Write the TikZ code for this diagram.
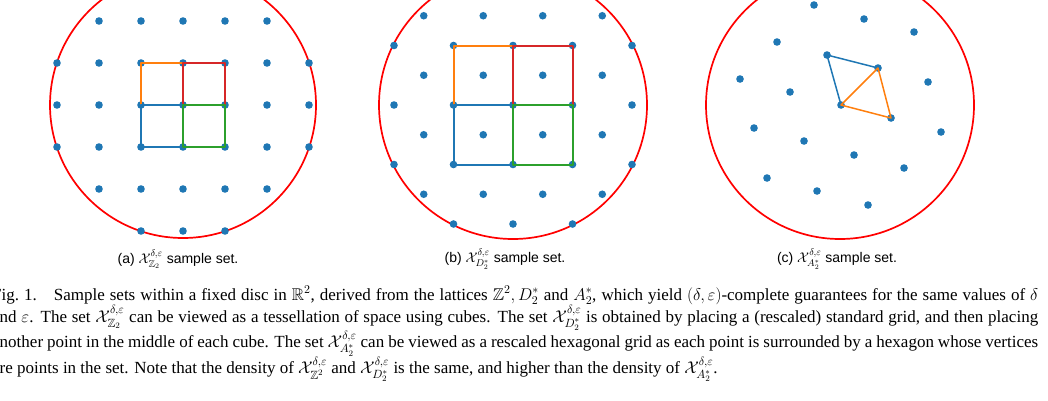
\documentclass[tikz,border=0pt]{standalone}
\usepackage{fix-cm}
\usepackage{amsmath,amssymb}
\usepackage{fontspec}
\setmainfont{Liberation Serif}
\setsansfont{Liberation Sans}
\usetikzlibrary{positioning}
\definecolor{tabblue}{HTML}{1F77B4}
\definecolor{taborange}{HTML}{FF7F0E}
\definecolor{tabgreen}{HTML}{2CA02C}
\definecolor{tabred}{HTML}{D62728}
\newcommand{\sset}[1]{$\mathcal{X}^{\delta,\varepsilon}_{#1}$}

\begin{document}
\begin{tikzpicture}[
                x=1pt, y=-1pt,
                dot/.style = {fill=tabblue},
                disc/.style = {draw=red, line width=1.7pt},
                cell/.style = {line width=1.5pt, line join=round},
                sub/.style = {font=\sffamily\fontsize{14}{16}\selectfont, inner sep=0pt}
            ]
            \useasboundingbox (0,0) rectangle (1048,400);
            % (a) square grid
            \draw[disc] (183,105) circle (133);
            \foreach \i in {-3,...,3}
                \foreach \j in {-3,...,3} {
                    \pgfmathsetmacro\dd{veclen(\i*42,\j*42)}
                    \ifdim\dd pt<135pt \fill[dot] (183+\i*42,105+\j*42) circle (3.8); \fi
                }
            \draw[cell, taborange] (141,105) -- (141,63) -- (183,63) -- (183,105) -- cycle;
            \draw[cell, tabred] (183,105) -- (183,63) -- (225,63) -- (225,105) -- cycle;
            \draw[cell, tabblue] (183,105) -- (141,105) -- (141,147) -- (183,147);
            \draw[cell, tabgreen] (183,105) -- (225,105) -- (225,147) -- (183,147) -- cycle;
            \node[sub] (capa) at (178,259) {(a) \sset{\mathbb{Z}_2} sample set.};
            % (b) grid with centres
            \draw[disc] (513,105) circle (134);
            \foreach \i in {-4,...,4}
                \foreach \j in {-4,...,4} {
                    \pgfmathsetmacro\dd{veclen(\i*29.75,\j*29.75)}
                    \pgfmathtruncatemacro\parity{mod(abs(\i+\j),2)}
                    \ifnum\parity=0 \ifdim\dd pt<136pt \fill[dot] (513+\i*29.75,105+\j*29.75) circle (3.8); \fi \fi
                }
            \draw[cell, taborange] (454,105) -- (454,46) -- (513,46) -- (513,105) -- cycle;
            \draw[cell, tabred] (513,105) -- (513,46) -- (573,46) -- (573,105) -- cycle;
            \draw[cell, tabblue] (513,105) -- (454,105) -- (454,165) -- (513,165);
            \draw[cell, tabgreen] (513,105) -- (573,105) -- (573,165) -- (513,165) -- cycle;
            \node[sub] (capb) at (505,259) {(b) \sset{D_2^*} sample set.};
            % (c) hexagonal lattice
            \draw[disc] (840,105) circle (134);
            \foreach \px/\py in {814/5, 864/19, 914/32, 777/42, 827/55, 878/68, 740/79, 790/92,
                                 928/82, 841/105, 891/118, 754/128, 941/132, 804/141, 854/155,
                                 767/178, 904/168, 817/191, 868/205}
                \fill[dot] (\px,\py) circle (3.8);
            \draw[cell, tabblue] (841,105) -- (827,55) -- (878,68);
            \draw[cell, taborange] (841,105) -- (878,68) -- (891,118) -- cycle;
            \node[sub] (capc) at (837,259) {(c) \sset{A_2^*} sample set.};
            % caption
            \node[anchor=north west, inner sep=0pt, text width=1046pt, align=justify,
                  font=\fontsize{17}{22}\selectfont] (fig) at (-8,286)
                {Fig.~1.\quad Sample sets within a fixed disc in $\mathbb{R}^2$, derived from the lattices $\mathbb{Z}^2, D_2^*$ and $A_2^*$, which yield $(\delta,\varepsilon)$-complete guarantees for the same values of $\delta$\linebreak and $\varepsilon$. The set \sset{\mathbb{Z}_2} can be viewed as a tessellation of space using cubes. The set \sset{D_2^*} is obtained by placing a (rescaled) standard grid, and then placing\linebreak another point in the middle of each cube. The set \sset{A_2^*} can be viewed as a rescaled hexagonal grid as each point is surrounded by a hexagon whose vertices\linebreak are points in the set. Note that the density of \sset{\mathbb{Z}^2} and \sset{D_2^*} is the same, and higher than the density of \sset{A_2^*}.};
        \end{tikzpicture}
\end{document}
